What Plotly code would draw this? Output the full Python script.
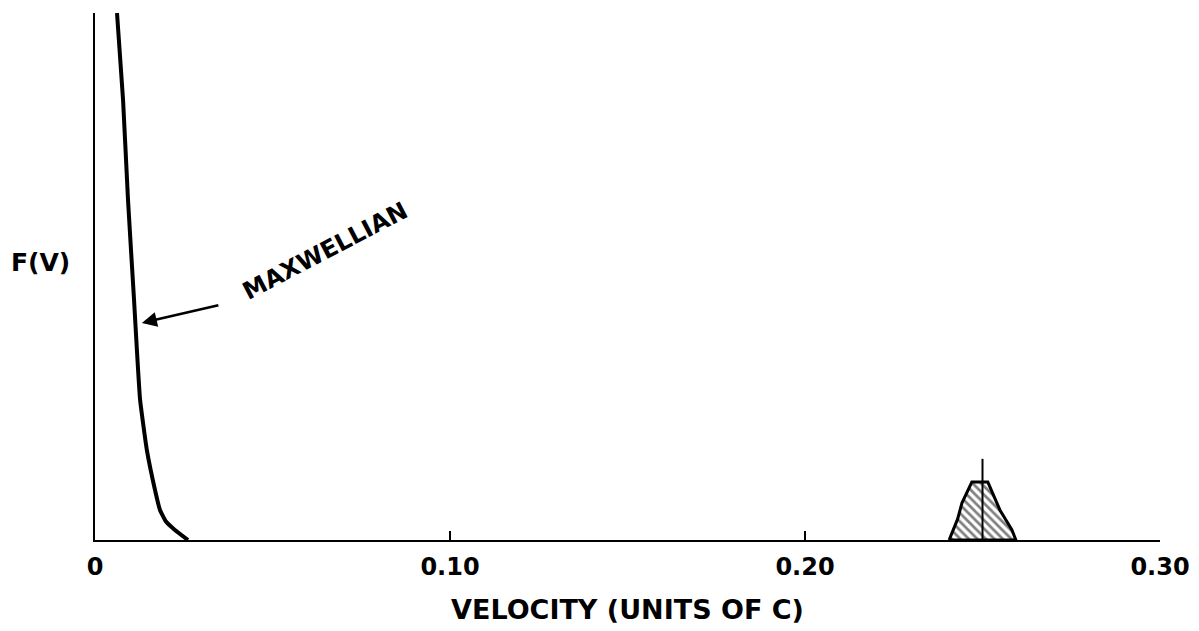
import plotly.graph_objects as go

# Maxwellian distribution (velocity in units of c, F(V) normalised)
maxwell_v = [0.0062, 0.0079, 0.0093, 0.0110, 0.0118, 0.0127, 0.0146, 0.0169, 0.0183, 0.0200, 0.0225, 0.0262]
maxwell_f = [1.000, 0.835, 0.645, 0.455, 0.361, 0.266, 0.171, 0.095, 0.057, 0.035, 0.019, 0.000]

# Beam peak (hatched)
beam_v = [0.2406, 0.2417, 0.2430, 0.2442, 0.2470, 0.2515, 0.2532, 0.2549, 0.2583, 0.2594, 0.2406]
beam_f = [0.000, 0.019, 0.040, 0.070, 0.110, 0.110, 0.085, 0.057, 0.019, 0.000, 0.000]
beam_center = 0.25
beam_marker_top = 0.154

tick_vals = [0, 0.10, 0.20, 0.30]
tick_text = ["0", "0.10", "0.20", "0.30"]

FONT = "DejaVu Sans"

fig = go.Figure()
fig.add_trace(go.Scatter(x=maxwell_v, y=maxwell_f, mode="lines",
                         line=dict(color="black", width=4, shape="spline", smoothing=0.4),
                         cliponaxis=False, showlegend=False, hoverinfo="skip"))
fig.add_trace(go.Scatter(x=beam_v, y=beam_f, mode="lines", fill="toself",
                         fillcolor="white",
                         fillpattern=dict(shape="\\", fgcolor="black", bgcolor="white",
                                          size=6, solidity=0.45),
                         line=dict(color="black", width=3),
                         showlegend=False, hoverinfo="skip"))
fig.add_trace(go.Scatter(x=[beam_center, beam_center], y=[0, beam_marker_top], mode="lines",
                         line=dict(color="black", width=2),
                         showlegend=False, hoverinfo="skip"))

fig.add_annotation(x=0.0132, y=0.412, xref="x", yref="y", ax=78, ay=-18,
                   text="", showarrow=True, arrowhead=2, arrowsize=1.2,
                   arrowwidth=2.5, arrowcolor="black")
fig.add_annotation(x=0.0648, y=0.549, xref="x", yref="y", text="<b>MAXWELLIAN</b>",
                   textangle=-27.6, showarrow=False,
                   font=dict(family=FONT, size=24, color="black"))
fig.add_annotation(x=0, y=0.527, xref="paper", yref="paper", xanchor="right",
                   xshift=-23, text="<b>F(V)</b>", showarrow=False,
                   font=dict(family=FONT, size=25, color="black"))

fig.update_layout(
    width=1199, height=631,
    margin=dict(l=95, r=39, t=13, b=91),
    paper_bgcolor="white", plot_bgcolor="white",
    xaxis=dict(range=[0, 0.30], showgrid=False, zeroline=False, showline=True,
               automargin=False,
               linecolor="black", linewidth=2, ticks="inside", ticklen=9,
               tickwidth=2, tickcolor="black", tickvals=tick_vals, ticktext=tick_text,
               ticklabelstandoff=4,
               tickfont=dict(family=FONT, size=24, color="black", weight="bold"),
               title=dict(text="<b>VELOCITY (UNITS OF C)</b>", standoff=20,
                          font=dict(family=FONT, size=27, color="black"))),
    yaxis=dict(range=[0, 1], showgrid=False, zeroline=False, showline=True,
               automargin=False,
               linecolor="black", linewidth=2, showticklabels=False, ticks=""),
)

fig.write_html("out.html")
